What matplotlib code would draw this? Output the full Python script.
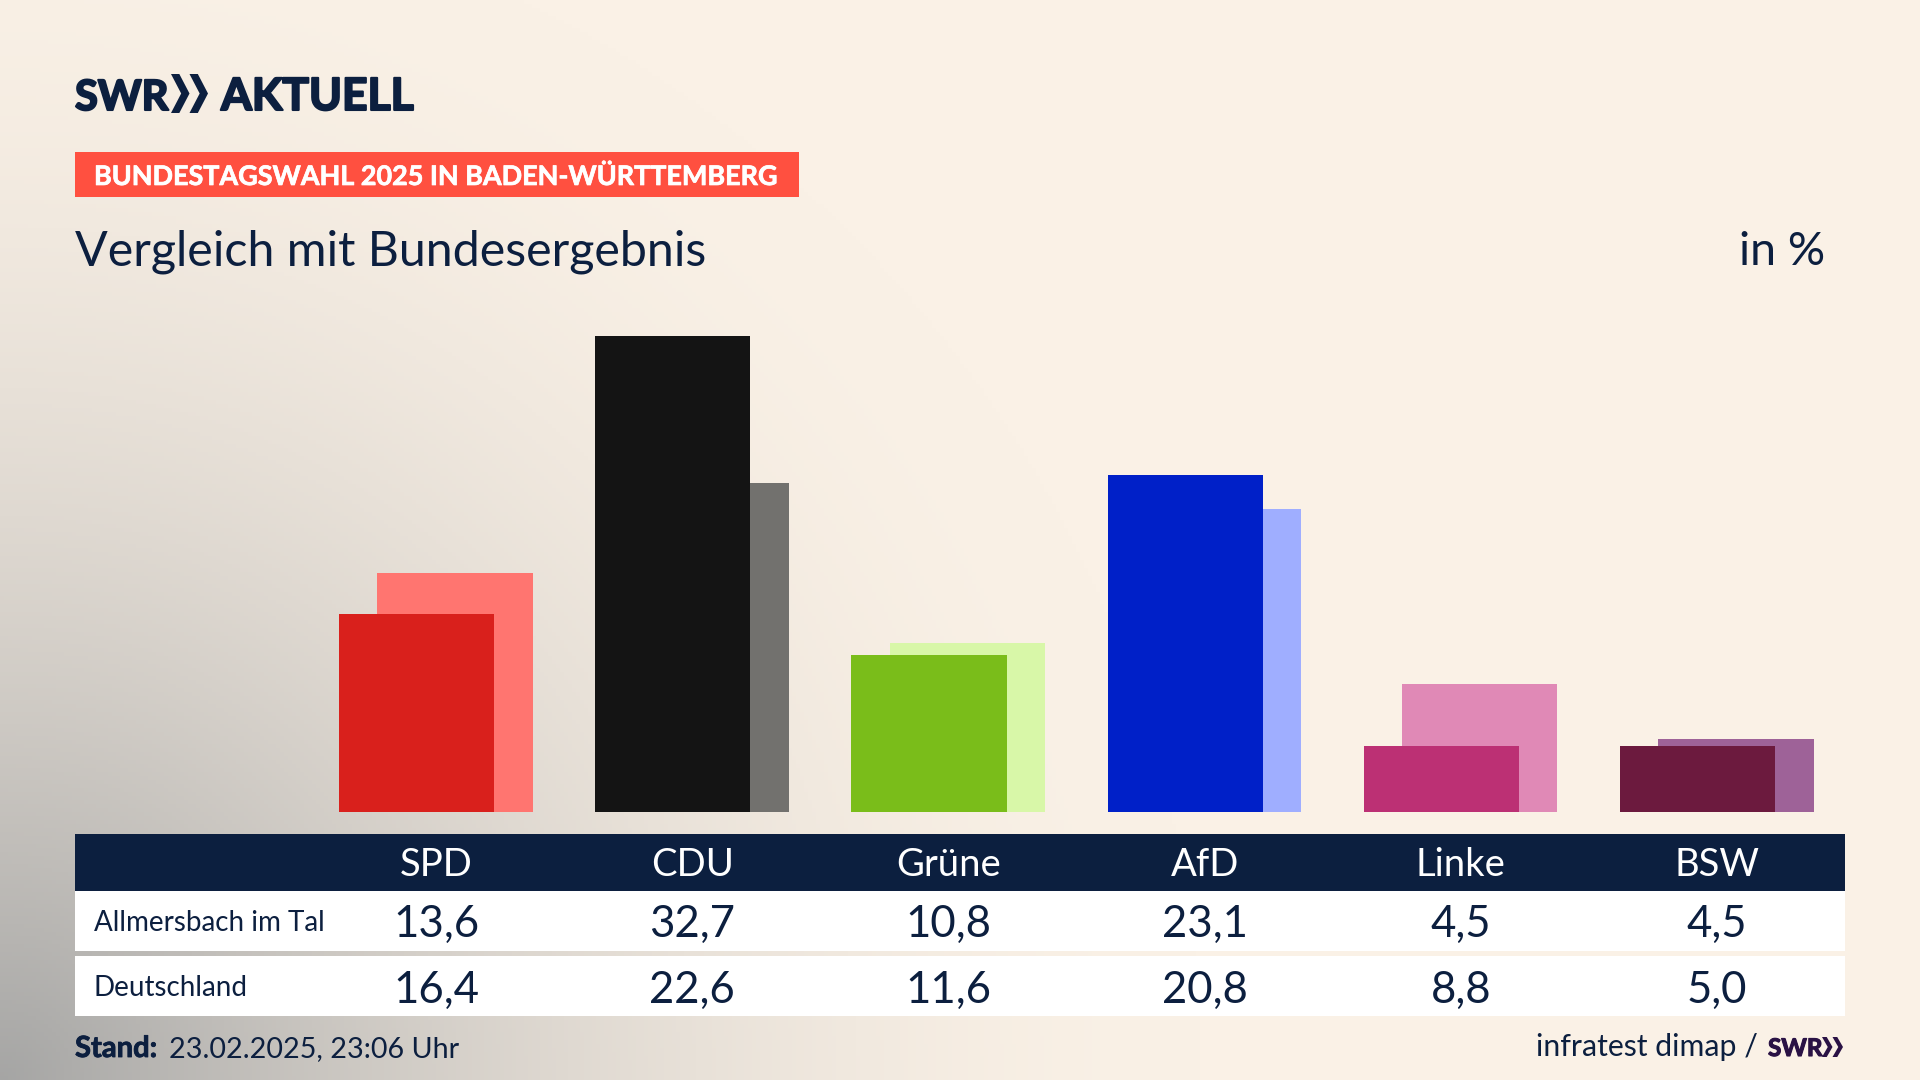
import numpy as np
import matplotlib
matplotlib.use("Agg")
import matplotlib.pyplot as plt
import matplotlib.patheffects as pe
from matplotlib.patches import Rectangle, Polygon

# election results in %
parties = ["SPD", "CDU", "Grüne", "AfD", "Linke", "BSW"]
allmersbach = [13.6, 32.7, 10.8, 23.1, 4.5, 4.5]
deutschland = [16.4, 22.6, 11.6, 20.8, 8.8, 5.0]
row_names = ["Allmersbach im Tal", "Deutschland"]

colors_local = ["#D9201C", "#141414", "#7ABD1A", "#0020C8", "#BC3074", "#6C1A3E"]
colors_federal = ["#FF7570", "#72716E", "#D8F7A8", "#9FAEFF", "#E089B6", "#9E6298"]

NAVY = "#0C1F3F"
PURPLE = "#2A1245"
FONT = "Lato"

fig = plt.figure(figsize=(19.2, 10.8), dpi=100)

# background + everything not a bar, in pixel coords
bg = fig.add_axes([0, 0, 1, 1])
bg.axis("off")

yy, xx = np.mgrid[0:1080:4, 0:1920:4]
d = np.sqrt((xx / 1200.0) ** 2 + ((1080 - yy) / 1200.0) ** 2)
t = np.clip(1 - d, 0, 1) ** 1.8
cream = np.array([250, 241, 230]) / 255
gray = np.array([165, 165, 164]) / 255
img = cream + (gray - cream) * t[..., None]
bg.imshow(img, extent=(0, 1920, 1080, 0), aspect="auto", zorder=0)
bg.set_xlim(0, 1920)
bg.set_ylim(1080, 0)


def heavy(width, color):
    return [pe.withStroke(linewidth=width, foreground=color)]


def chevrons(x, top, bot, w, color):
    mid = (top + bot) / 2
    dx = w * 0.45
    for i in range(2):
        x0 = x + i * w
        bg.add_patch(Polygon([(x0, top), (x0 + dx, top), (x0 + w, mid), (x0 + dx, bot), (x0, bot), (x0 + w - dx, mid)],
                             closed=True, fc=color, ec="none", zorder=3))


# logo
bg.text(75, 110, "SWR", fontsize=30, family=FONT, weight="bold", color=NAVY, va="baseline", zorder=3,
        path_effects=heavy(1.5, NAVY))
chevrons(171, 74, 113, 18.5, NAVY)
bg.text(221, 110, "AKTUELL", fontsize=32, family=FONT, weight="bold", color=NAVY, va="baseline", zorder=3,
        path_effects=heavy(1.5, NAVY))

# banner
bg.add_patch(Rectangle((75, 152), 724, 45, fc="#FF5040", ec="none", zorder=2))
bg.text(94, 185, "BUNDESTAGSWAHL 2025 IN BADEN-WÜRTTEMBERG", fontsize=19.4, family=FONT, weight="bold",
        color="white", va="baseline", zorder=3, path_effects=heavy(0.5, "white"))

# title
bg.text(75, 265, "Vergleich mit Bundesergebnis", fontsize=34.8, family=FONT, color=NAVY, va="baseline", zorder=3)
bg.text(1825, 265, "in %", fontsize=33.5, family=FONT, color=NAVY, ha="right", va="baseline", zorder=3)

# table
col_x = [436 + 256.2 * i for i in range(len(parties))]
bg.add_patch(Rectangle((75, 834), 1770, 57, fc=NAVY, ec="none", zorder=2))
bg.add_patch(Rectangle((75, 891), 1770, 60, fc="white", ec="none", zorder=2))
bg.add_patch(Rectangle((75, 956), 1770, 60, fc="white", ec="none", zorder=2))

for i, p in enumerate(parties):
    bg.text(col_x[i], 876, p, fontsize=27.5, family=FONT, color="white", ha="center", va="baseline", zorder=3)
    a = f"{allmersbach[i]:.1f}".replace(".", ",")
    b = f"{deutschland[i]:.1f}".replace(".", ",")
    bg.text(col_x[i], 937, a, fontsize=31.5, family=FONT, color=NAVY, ha="center", va="baseline", zorder=3)
    bg.text(col_x[i], 1003, b, fontsize=31.5, family=FONT, color=NAVY, ha="center", va="baseline", zorder=3)

bg.text(94, 931, row_names[0], fontsize=20, family=FONT, color=NAVY, va="baseline", zorder=3)
bg.text(94, 996, row_names[1], fontsize=20, family=FONT, color=NAVY, va="baseline", zorder=3)

# footer
bg.text(75, 1057, "Stand:", fontsize=21, family=FONT, weight="bold", color=NAVY, va="baseline", zorder=3,
        path_effects=heavy(0.6, NAVY))
bg.text(169, 1057, "23.02.2025, 23:06 Uhr", fontsize=20.7, family=FONT, color=NAVY, va="baseline", zorder=3)
bg.text(1758, 1056, "infratest dimap /", fontsize=21.8, family=FONT, color=NAVY, ha="right", va="baseline", zorder=3)
bg.text(1768, 1056, "SWR", fontsize=17.5, family=FONT, weight="bold", color=PURPLE, va="baseline", zorder=3,
        path_effects=heavy(0.8, PURPLE))
chevrons(1822, 1037, 1057, 10.5, PURPLE)

# bars
ax = fig.add_axes([75 / 1920, (1080 - 812) / 1080, 1770 / 1920, 512 / 1080])
ax.patch.set_alpha(0)
x = np.arange(len(parties))
ax.bar(x + 0.074, deutschland, width=0.607, color=colors_federal)
ax.bar(x - 0.0755, allmersbach, width=0.606, color=colors_local)
ax.set_xlim(-1.409, 5.5)
ax.set_ylim(0, 35.14)
ax.axis("off")

fig.savefig("out.png", dpi=100)
